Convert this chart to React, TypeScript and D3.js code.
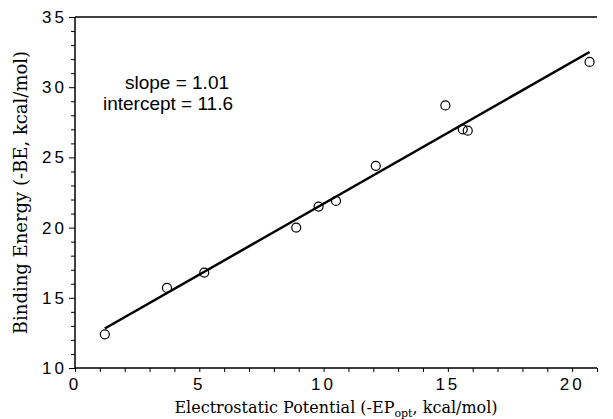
import React, { useEffect, useRef } from 'react';
import * as d3 from 'd3';

// -EP_opt vs -BE data
const epValues = [1.2, 3.7, 5.2, 8.9, 9.8, 10.5, 12.1, 14.9, 15.6, 15.8, 20.7];
const beValues = [12.4, 15.7, 16.8, 20.0, 21.5, 21.9, 24.4, 28.7, 27.0, 26.9, 31.8];
const fitSlope = 1.01;
const fitIntercept = 11.6;
const fitRange = [1.2, 20.7];
const xTicks = [0, 5, 10, 15, 20];
const yTicks = [10, 15, 20, 25, 30, 35];

const App = () => {
    const ref = useRef<SVGSVGElement>(null);

    useEffect(() => {
        const width = 613;
        const height = 419;
        const margin = { top: 17, right: 16, bottom: 51, left: 75 };
        const svg = d3.select(ref.current);
        svg.selectAll('*').remove();

        const x = d3.scaleLinear().domain([0, 21]).range([margin.left, width - margin.right]);
        const y = d3.scaleLinear().domain([10, 35]).range([height - margin.bottom, margin.top]);

        const tickFont = 'Liberation Sans, Arial, sans-serif';
        const titleFont = 'DejaVu Serif, Liberation Serif, serif';

        // x axis with minor ticks
        const xAxis = svg.append('g')
            .attr('transform', `translate(0, ${y(10)})`)
            .call(d3.axisBottom(x).tickValues(d3.range(0, 22)).tickSize(4).tickFormat(() => ''));
        xAxis.select('.domain').attr('stroke-width', 1.5).attr('d', `M${x(0)},0H${x(21)}`);
        xAxis.selectAll('.tick line').attr('stroke-width', 1);
        svg.append('g').selectAll('text').data(xTicks).enter().append('text')
            .attr('x', d => x(d))
            .attr('y', y(10) + 22)
            .attr('text-anchor', 'middle')
            .attr('font-family', tickFont)
            .attr('font-size', 17)
            .attr('letter-spacing', 3)
            .text(d => d);

        // y axis with minor ticks
        const yAxis = svg.append('g')
            .attr('transform', `translate(${x(0)}, 0)`)
            .call(d3.axisLeft(y).tickValues(d3.range(10, 36)).tickSize(4).tickFormat(() => ''));
        yAxis.select('.domain').attr('stroke-width', 1.5).attr('d', `M0,${y(10)}V${y(35)}`);
        yAxis.selectAll('.tick line').attr('x2', (d: any) => (d % 5 === 0 ? -6 : -4));
        svg.append('g').selectAll('text').data(yTicks).enter().append('text')
            .attr('x', x(0) - 8)
            .attr('y', d => y(d) + 6)
            .attr('text-anchor', 'end')
            .attr('font-family', tickFont)
            .attr('font-size', 17)
            .attr('letter-spacing', 3)
            .text(d => d);

        // top frame line
        svg.append('line')
            .attr('x1', x(0)).attr('x2', x(21))
            .attr('y1', y(35)).attr('y2', y(35))
            .attr('stroke', '#000').attr('stroke-width', 1.5);

        // fit line
        svg.append('line')
            .attr('x1', x(fitRange[0])).attr('y1', y(fitSlope * fitRange[0] + fitIntercept))
            .attr('x2', x(fitRange[1])).attr('y2', y(fitSlope * fitRange[1] + fitIntercept))
            .attr('stroke', '#000').attr('stroke-width', 2.5);

        // points
        svg.append('g').selectAll('circle').data(epValues).enter().append('circle')
            .attr('cx', d => x(d))
            .attr('cy', (d, i) => y(beValues[i]))
            .attr('r', 4.5)
            .attr('fill', 'none')
            .attr('stroke', '#000')
            .attr('stroke-width', 1.2);

        // annotation
        const note = svg.append('text')
            .attr('text-anchor', 'middle')
            .attr('font-family', tickFont)
            .attr('font-size', 19);
        note.append('tspan').attr('x', 177).attr('y', 89).text(`slope = ${fitSlope.toFixed(2)}`);
        note.append('tspan').attr('x', 168).attr('y', 110).text(`intercept = ${fitIntercept}`);

        // axis titles
        const xTitle = svg.append('text')
            .attr('x', (x(0) + x(21)) / 2)
            .attr('y', 413)
            .attr('text-anchor', 'middle')
            .attr('font-family', titleFont)
            .attr('font-size', 16);
        xTitle.append('tspan').text('Electrostatic Potential (-EP');
        xTitle.append('tspan').attr('font-size', 11).attr('dy', 4).text('opt');
        xTitle.append('tspan').attr('dy', -4).text(', kcal/mol)');

        svg.append('text')
            .attr('transform', `translate(27, ${(y(10) + y(35)) / 2}) rotate(-90)`)
            .attr('text-anchor', 'middle')
            .attr('font-family', titleFont)
            .attr('font-size', 18)
            .text('Binding Energy (-BE, kcal/mol)');
    }, []);

    return (
        <svg ref={ref} width={613} height={419}
            style={{ position: 'absolute', left: 0, top: 0, background: '#fff' }} />
    );
};

export default App;
